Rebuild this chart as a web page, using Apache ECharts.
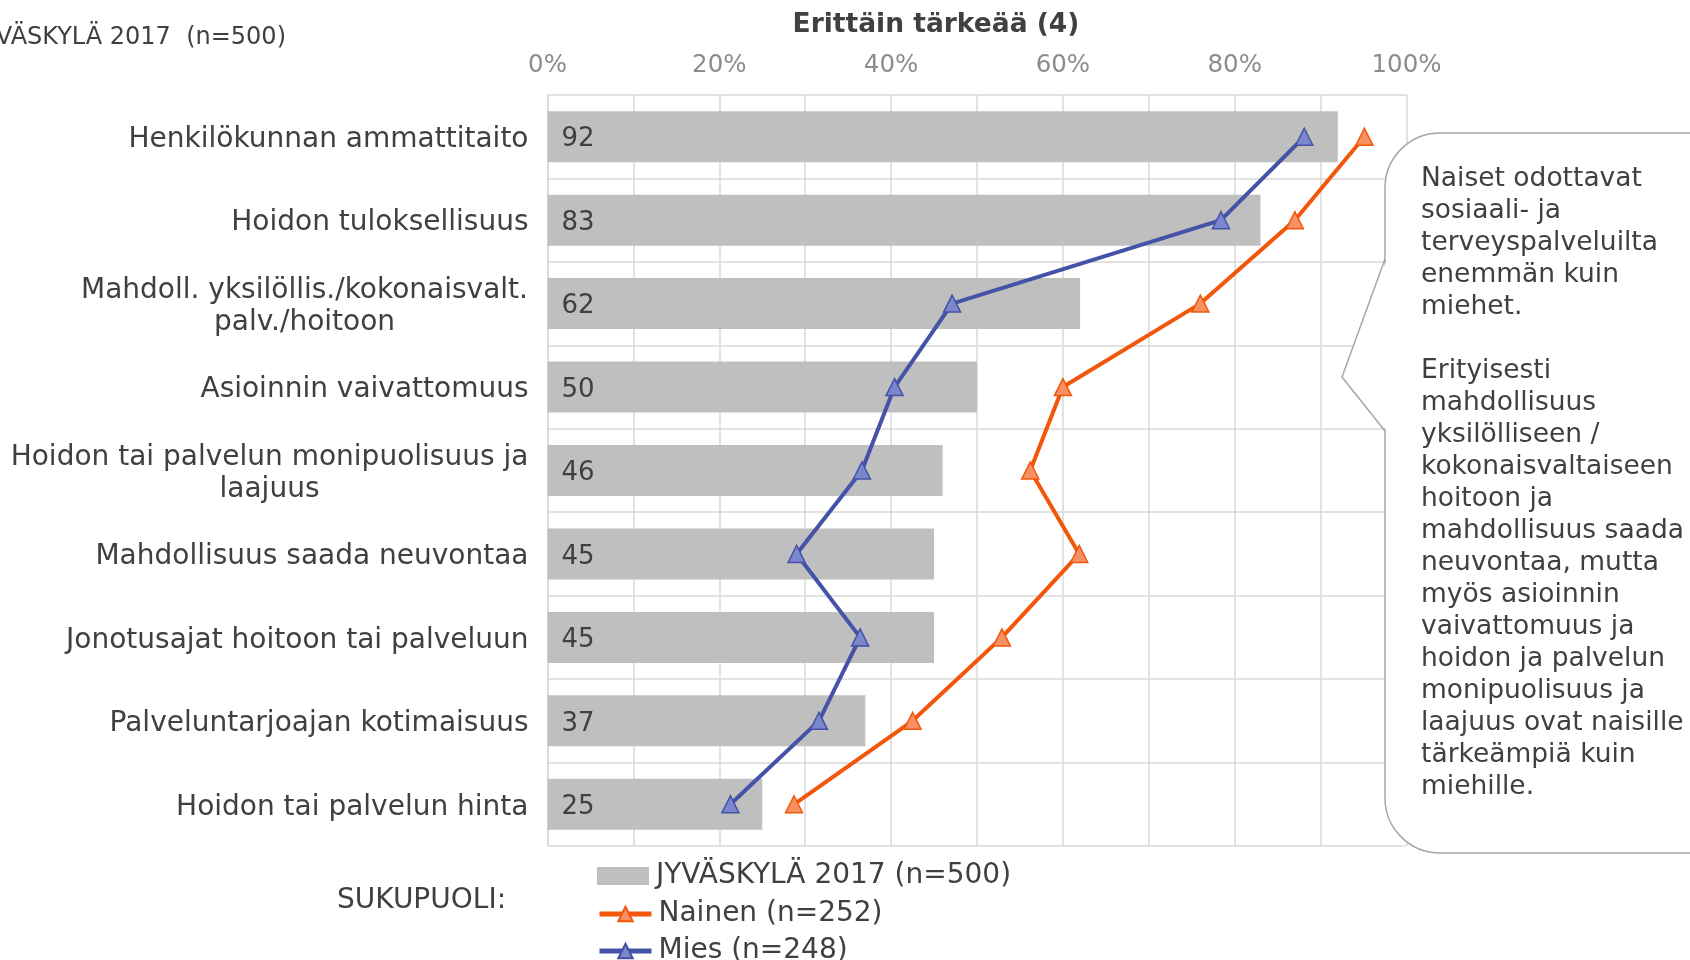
<!DOCTYPE html>
<html><head><meta charset="utf-8">
<script src="https://cdn.jsdelivr.net/npm/echarts@6/dist/echarts.min.js"></script>
<style>html,body{margin:0;padding:0;background:#fff}#c{width:1690px;height:960px}</style>
</head><body><div id="c"></div>
<script>
const categories = [
  'Henkilökunnan ammattitaito',
  'Hoidon tuloksellisuus',
  'Mahdoll. yksilöllis./kokonaisvalt.\npalv./hoitoon',
  'Asioinnin vaivattomuus',
  'Hoidon tai palvelun monipuolisuus ja\nlaajuus',
  'Mahdollisuus saada neuvontaa',
  'Jonotusajat hoitoon tai palveluun',
  'Palveluntarjoajan kotimaisuus',
  'Hoidon tai palvelun hinta'
];
const totalValues = [92, 83, 62, 50, 46, 45, 45, 37, 25];
const naisetValues = [95.1, 87.0, 76.0, 60.0, 56.2, 61.9, 52.9, 42.5, 28.7];
const miehetValues = [88.1, 78.4, 47.1, 40.4, 36.6, 29.0, 36.4, 31.6, 21.3];
const xTicks = [0, 20, 40, 60, 80, 100];
const seriesNames = ['JYVÄSKYLÄ 2017 (n=500)', 'Nainen (n=252)', 'Mies (n=248)'];
const chartTitle = 'Erittäin tärkeää (4)';
const topLeftText = 'JYVÄSKYLÄ 2017  (n=500)';
const groupLabel = 'SUKUPUOLI:';
const calloutText = [
  'Naiset odottavat','sosiaali- ja','terveyspalveluilta','enemmän kuin','miehet.','',
  'Erityisesti','mahdollisuus','yksilölliseen /','kokonaisvaltaiseen','hoitoon ja',
  'mahdollisuus saada','neuvontaa, mutta','myös asioinnin','vaivattomuus ja',
  'hoidon ja palvelun','monipuolisuus ja','laajuus ovat naisille','tärkeämpiä kuin','miehille.'
];

const FONT = '"DejaVu Sans", Verdana, sans-serif';
const TXT = '#404040';
const catFontSize = 28;

const cv = document.createElement('canvas').getContext('2d');
cv.font = catFontSize + 'px ' + FONT;
function maxLineWidth(s){ return Math.max.apply(null, s.split('\n').map(l => cv.measureText(l).width)); }

// rich styles so that lines of a two-line label are centred on each other
const rich = {};
categories.forEach((c, i) => {
  rich['c' + i] = { width: Math.ceil(maxLineWidth(c)), align: 'center', fontSize: catFontSize, color: TXT, fontFamily: FONT, lineHeight: 32 };
});

const chart = echarts.init(document.getElementById('c'));
const gridL = 547.5, gridR = 1406.5, gridT = 95, gridB = 846;

const legendTops = [857, 895, 932];
const legendIcons = ['rect', null, null];
const legends = seriesNames.map((n, i) => ({
  orient: 'vertical', left: 592, top: legendTops[i],
  itemWidth: 52, itemHeight: 18,
  textStyle: { color: TXT, fontSize: 28, fontFamily: FONT, padding: [0,0,0,2] },
  lineStyle: { width: 5 },
  data: [legendIcons[i] ? { name: n, icon: legendIcons[i] } : { name: n, lineStyle: { width: 5 } }]
}));

chart.setOption({
  animation: false,
  textStyle: { fontFamily: FONT },
  grid: { left: gridL, right: 1690 - gridR, top: gridT, bottom: 960 - gridB, containLabel: false },
  xAxis: {
    type: 'value', position: 'top', min: 0, max: 100, interval: 10,
    axisLine: { show: false }, axisTick: { show: false },
    splitLine: { show: true, lineStyle: { color: '#d9d9d9', width: 1.5 } },
    axisLabel: {
      color: '#8c8c8c', fontSize: 24.5, margin: 17, fontFamily: FONT,
      formatter: v => xTicks.indexOf(v) >= 0 ? v + '%' : ''
    }
  },
  yAxis: {
    type: 'category', data: categories, inverse: true,
    axisLine: { show: true, lineStyle: { color: '#d9d9d9', width: 1.5 } },
    axisTick: { show: false },
    splitLine: { show: true, lineStyle: { color: '#d9d9d9', width: 1.5 } },
    axisLabel: {
      color: TXT, fontSize: catFontSize, margin: 19, fontFamily: FONT, lineHeight: 32,
      padding: [6, 0, 0, 0],
      formatter: (v, i) => {
        if (v.indexOf('\n') < 0) return v;
        return v.split('\n').map(l => '{c' + i + '|' + l + '}').join('\n');
      },
      rich: rich
    }
  },
  legend: legends,
  series: [
    {
      name: seriesNames[0], type: 'bar', data: totalValues, barWidth: 51,
      itemStyle: { color: '#bfbfbf' },
      label: { show: true, position: 'insideLeft', distance: 14, offset: [0, 3], color: TXT, fontSize: 26, fontFamily: FONT },
      z: 1
    },
    {
      name: seriesNames[1], type: 'line', data: naisetValues,
      symbol: 'triangle', symbolSize: 17,
      lineStyle: { color: '#f2560a', width: 4 },
      itemStyle: { color: '#f79163', borderColor: '#f2560a', borderWidth: 1.5 },
      z: 3
    },
    {
      name: seriesNames[2], type: 'line', data: miehetValues,
      symbol: 'triangle', symbolSize: 17,
      lineStyle: { color: '#4452a8', width: 4 },
      itemStyle: { color: '#7c86cc', borderColor: '#4452a8', borderWidth: 1.5 },
      z: 3
    }
  ],
  graphic: [
    { type: 'text', x: 936, y: 25, style: { text: chartTitle, fill: TXT, font: 'bold 26.5px ' + FONT, align: 'center', verticalAlign: 'middle' } },
    { type: 'text', x: 286, y: 38, style: { text: topLeftText, fill: TXT, font: '24px ' + FONT, align: 'right', verticalAlign: 'middle' } },
    { type: 'text', x: 337, y: 901, style: { text: groupLabel, fill: TXT, font: '28px ' + FONT, align: 'left', verticalAlign: 'middle' } },
    { type: 'rect', shape: { x: 1385, y: 133, width: 420, height: 720, r: 55 }, style: { fill: '#fff', stroke: '#a6a6a6', lineWidth: 1.5 }, z: 10 },
    { type: 'polygon', shape: { points: [[1387, 259], [1342, 377], [1387, 431]] }, style: { fill: '#fff' }, z: 11 },
    { type: 'polyline', shape: { points: [[1385, 259], [1342, 377], [1385, 431]] }, style: { stroke: '#a6a6a6', lineWidth: 1.5, fill: null }, z: 12 },
    { type: 'text', x: 1421, y: 163, style: { text: calloutText.join('\n'), fill: TXT, font: '26.5px ' + FONT, lineHeight: 32, verticalAlign: 'top' }, z: 13 }
  ]
});
</script></body></html>
